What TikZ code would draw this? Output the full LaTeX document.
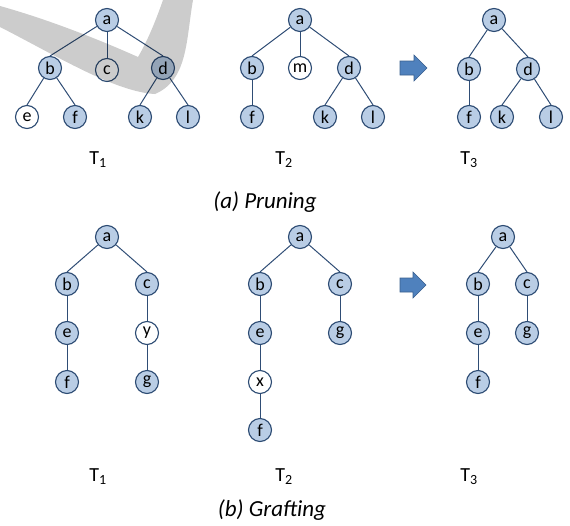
\documentclass[tikz,border=0pt]{standalone}
\usepackage{fontspec}
\setmainfont{Carlito}
\definecolor{nodefill}{HTML}{B9CDE5}
\definecolor{nodeline}{HTML}{2B4A72}
\definecolor{edgecol}{HTML}{2F4D75}
\definecolor{arrowfill}{HTML}{4F81BD}
\definecolor{arrowline}{HTML}{3A5F8E}
\begin{document}
\begin{tikzpicture}[x=1pt,y=-1pt,
  tn/.style={circle,draw=nodeline,fill=nodefill,line width=1.1pt,
    minimum size=23pt,inner sep=0pt,font=\fontsize{18}{18}\selectfont},
  wn/.style={tn,fill=white},
  edge/.style={draw=edgecol,line width=1pt},
  tlabel/.style={font=\fontsize{20}{20}\selectfont},
  caption/.style={font=\fontsize{23}{23}\selectfont\itshape},
  blockarrow/.style={fill=arrowfill,draw=arrowline,line width=0.6pt}]
\useasboundingbox (0,0) rectangle (570,525);

% ---------- (a) Pruning ----------
% T1
\node[tn] (pa1) at (107,20) {a};
\node[tn] (pb1) at (50,68) {b};
\node[wn] (pc1) at (107,70) {c};
\node[tn] (pd1) at (163,68) {d};
\node[wn] (pe1) at (27,117) {e};
\node[tn] (pf1) at (75,117) {f};
\node[tn] (pk1) at (140,117) {k};
\node[tn] (pl1) at (188,117) {l};
\draw[edge] (pa1) -- (pb1.north);
\draw[edge] (pa1) -- (pc1.north);
\draw[edge] (pa1) -- (pd1.north);
\draw[edge] (pb1) -- (pe1.north);
\draw[edge] (pb1) -- (pf1.north);
\draw[edge] (pd1) -- (pk1.north);
\draw[edge] (pd1) -- (pl1.north);

% T2
\node[tn] (pa2) at (300,20) {a};
\node[tn] (pb2) at (252,68) {b};
\node[wn] (pm2) at (300,68) {m};
\node[tn] (pd2) at (349,68) {d};
\node[tn] (pf2) at (252,117) {f};
\node[tn] (pk2) at (325,117) {k};
\node[tn] (pl2) at (373,117) {l};
\draw[edge] (pa2) -- (pb2.north);
\draw[edge] (pa2) -- (pm2.north);
\draw[edge] (pa2) -- (pd2.north);
\draw[edge] (pb2) -- (pf2.north);
\draw[edge] (pd2) -- (pk2.north);
\draw[edge] (pd2) -- (pl2.north);

% arrow
\filldraw[blockarrow] (400,61) -- (414,61) -- (414,55) -- (427,68)
  -- (414,81) -- (414,75) -- (400,75) -- cycle;

% T3
\node[tn] (pa3) at (494,20) {a};
\node[tn] (pb3) at (469,69) {b};
\node[tn] (pd3) at (528,69) {d};
\node[tn] (pf3) at (469,117) {f};
\node[tn] (pk3) at (502,117) {k};
\node[tn] (pl3) at (551,117) {l};
\draw[edge] (pa3) -- (pb3.north);
\draw[edge] (pa3) -- (pd3.north);
\draw[edge] (pb3) -- (pf3.north);
\draw[edge] (pd3) -- (pk3.north);
\draw[edge] (pd3) -- (pl3.north);

\node[tlabel] (pt1) at (98,160) {T\textsubscript{1}};
\node[tlabel] (pt2) at (284,160) {T\textsubscript{2}};
\node[tlabel] (pt3) at (469,160) {T\textsubscript{3}};
\node[caption] (pcap) at (265,202) {(a) Pruning};

% ---------- (b) Grafting ----------
% T1
\node[tn] (ga1) at (107,237) {a};
\node[tn] (gb1) at (67,284) {b};
\node[tn] (gc1) at (147,284) {c};
\node[tn] (ge1) at (67,333) {e};
\node[wn] (gy1) at (147,333) {y};
\node[tn] (gf1) at (67,382) {f};
\node[tn] (gg1) at (147,382) {g};
\draw[edge] (ga1) -- (gb1.north);
\draw[edge] (ga1) -- (gc1.north);
\draw[edge] (gb1) -- (ge1.north);
\draw[edge] (ge1) -- (gf1.north);
\draw[edge] (gc1) -- (gy1.north);
\draw[edge] (gy1) -- (gg1.north);

% T2
\node[tn] (ga2) at (300,237) {a};
\node[tn] (gb2) at (260,284) {b};
\node[tn] (gc2) at (340,284) {c};
\node[tn] (ge2) at (260,333) {e};
\node[wn] (gx2) at (260,382) {x};
\node[tn] (gf2) at (260,430) {f};
\node[tn] (gg2) at (340,333) {g};
\draw[edge] (ga2) -- (gb2.north);
\draw[edge] (ga2) -- (gc2.north);
\draw[edge] (gb2) -- (ge2.north);
\draw[edge] (ge2) -- (gx2.north);
\draw[edge] (gx2) -- (gf2.north);
\draw[edge] (gc2) -- (gg2.north);

% arrow
\filldraw[blockarrow] (400,278) -- (413,278) -- (413,272) -- (426,285)
  -- (413,298) -- (413,292) -- (400,292) -- cycle;

% T3
\node[tn] (ga3) at (503,237) {a};
\node[tn] (gb3) at (478,284) {b};
\node[tn] (gc3) at (527,284) {c};
\node[tn] (ge3) at (478,333) {e};
\node[tn] (gf3) at (478,382) {f};
\node[tn] (gg3) at (527,333) {g};
\draw[edge] (ga3) -- (gb3.north);
\draw[edge] (ga3) -- (gc3.north);
\draw[edge] (gb3) -- (ge3.north);
\draw[edge] (ge3) -- (gf3.north);
\draw[edge] (gc3) -- (gg3.north);

\node[tlabel] (gt1) at (98,477) {T\textsubscript{1}};
\node[tlabel] (gt2) at (284,477) {T\textsubscript{2}};
\node[tlabel] (gt3) at (469,477) {T\textsubscript{3}};
\node[caption] (gcap) at (272,510) {(b) Grafting};

% translucent grey swoosh laid over the top-left corner
\fill[black,opacity=0.2] (0,6) .. controls (50,20) and (100,40) .. (138,57)
  .. controls (148,40) and (156,20) .. (163,0) -- (193,0)
  .. controls (186,40) and (188,80) .. (155,94)
  .. controls (115,92) and (55,55) .. (0,27) -- cycle;
\end{tikzpicture}
\end{document}
